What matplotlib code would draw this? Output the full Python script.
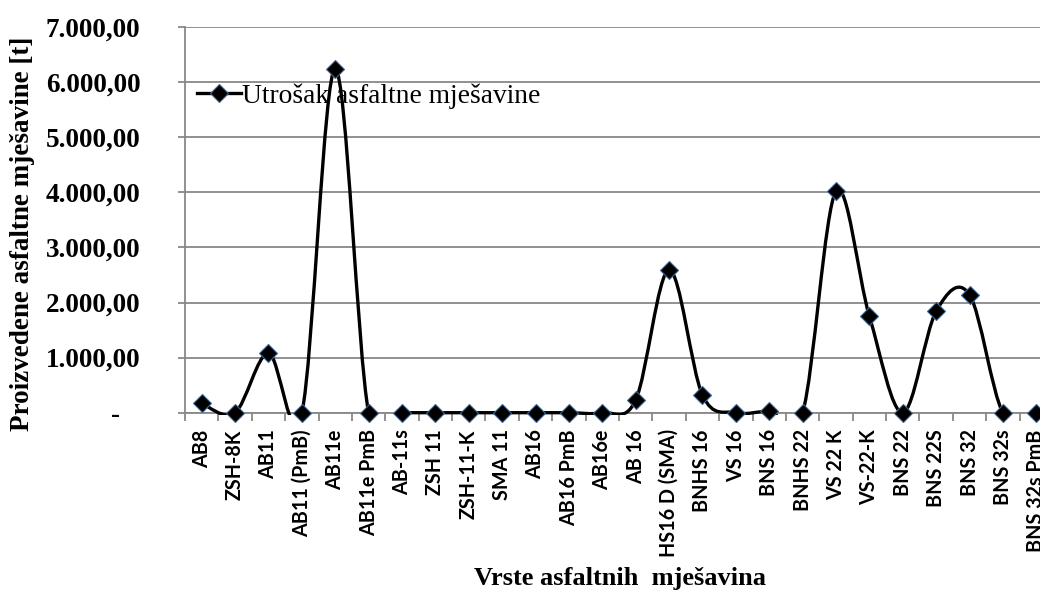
import matplotlib
matplotlib.use("Agg")
import matplotlib.pyplot as plt
from matplotlib.path import Path
from matplotlib.patches import PathPatch, Rectangle
from matplotlib.lines import Line2D

# asphalt mix types and produced quantities [t]
categories = ["AB8", "ZSH-8K", "AB11", "AB11 (PmB)", "AB11e", "AB11e PmB",
              "AB-11s", "ZSH 11", "ZSH-11-K", "SMA 11", "AB16", "AB16 PmB",
              "AB16e", "AB 16", "HS16 D (SMA)", "BNHS 16", "VS 16", "BNS 16",
              "BNHS 22", "VS 22 K", "VS-22-K", "BNS 22", "BNS 22S", "BNS 32",
              "BNS 32s", "BNS 32s PmB"]
values = [170, 0, 1080, 0, 6240, 0,
          0, 0, 0, 0, 0, 0,
          0, 230, 2590, 320, 0, 30,
          0, 4020, 1750, 0, 1840, 2140,
          0, 0]
y_ticks = [0, 1000, 2000, 3000, 4000, 5000, 6000, 7000]
y_tick_labels = ["-   ", "1.000,00", "2.000,00", "3.000,00", "4.000,00",
                 "5.000,00", "6.000,00", "7.000,00"]

SERIF = "Liberation Serif"
GRID = "#888888"


def smooth_path(xs, ys):
    # cubic bezier through every point (catmull-rom style tangents)
    verts = [(xs[0], ys[0])]
    codes = [Path.MOVETO]
    n = len(xs)
    for i in range(n - 1):
        a = i - 1 if i > 0 else i
        d = i + 2 if i + 2 < n else i + 1
        c1 = (xs[i] + (xs[i + 1] - xs[a]) / 6, ys[i] + (ys[i + 1] - ys[a]) / 6)
        c2 = (xs[i + 1] - (xs[d] - xs[i]) / 6, ys[i + 1] - (ys[d] - ys[i]) / 6)
        verts += [c1, c2, (xs[i + 1], ys[i + 1])]
        codes += [Path.CURVE4] * 3
    return Path(verts, codes)


W, H = 1040, 595
fig = plt.figure(figsize=(W / 100, H / 100), dpi=100)
left, right, top, bottom = 185, 1053, 27, 412.7
ax = fig.add_axes([left / W, 1 - bottom / H, (right - left) / W, (bottom - top) / H])

x = list(range(len(categories)))

patch = PathPatch(smooth_path(x, values), facecolor="none", edgecolor="black",
                  lw=2.4, zorder=3)
ax.add_patch(patch)
patch.set_clip_path(Rectangle((0, -0.006), 1, 1.006, transform=ax.transAxes))

ax.plot(x, values, linestyle="none", marker="D", markersize=9.5,
        markerfacecolor="black", markeredgecolor="#3d6491", markeredgewidth=0.8,
        zorder=4, clip_on=False)

ax.set_xlim(-0.5, len(categories) - 0.5)
ax.set_ylim(0, 7000)

# gridlines
ax.set_yticks(y_ticks)
ax.set_yticklabels(y_tick_labels, fontfamily=SERIF, fontweight="bold", fontsize=19.5)
ax.yaxis.grid(True, color=GRID, lw=1.3)
ax.set_axisbelow(True)
ax.tick_params(axis="y", direction="out", length=5, width=1.3, color=GRID, pad=27)

# category ticks between groups, labels centred
ax.set_xticks([i + 0.5 for i in x[:-1]] + [-0.5])
ax.set_xticklabels([])
ax.set_xticks(x, minor=True)
ax.set_xticklabels(categories, minor=True, rotation=90, fontfamily="Lato",
                   fontweight="bold", fontsize=14.2, va="top")
ax.tick_params(axis="x", which="major", direction="out", length=6, width=1.3, color=GRID)
ax.tick_params(axis="x", which="minor", length=0, pad=12)

for s in ["top", "right"]:
    ax.spines[s].set_visible(False)
for s in ["left", "bottom"]:
    ax.spines[s].set_color(GRID)
    ax.spines[s].set_linewidth(1.3)

handle = Line2D([], [], color="black", lw=2.4, marker="D", markersize=9.5,
                markerfacecolor="black", markeredgecolor="#3d6491", markeredgewidth=0.8)
fig.legend([handle], ["Utrošak asfaltne mješavine"], loc="center left",
           bbox_to_anchor=(183 / W, 1 - 96 / H), frameon=False, borderpad=0,
           handlelength=1.6, handletextpad=0.05,
           prop={"family": SERIF, "size": 19.8})

fig.text(620 / W, 1 - 578 / H, "Vrste asfaltnih  mješavina", ha="center", va="center",
         fontfamily=SERIF, fontweight="bold", fontsize=19)
fig.text(23 / W, 1 - 234 / H, "Proizvedene asfaltne mješavine [t]", ha="center",
         va="center", rotation=90, fontfamily=SERIF, fontweight="bold", fontsize=19.5)

fig.savefig("out.png", dpi=100)
